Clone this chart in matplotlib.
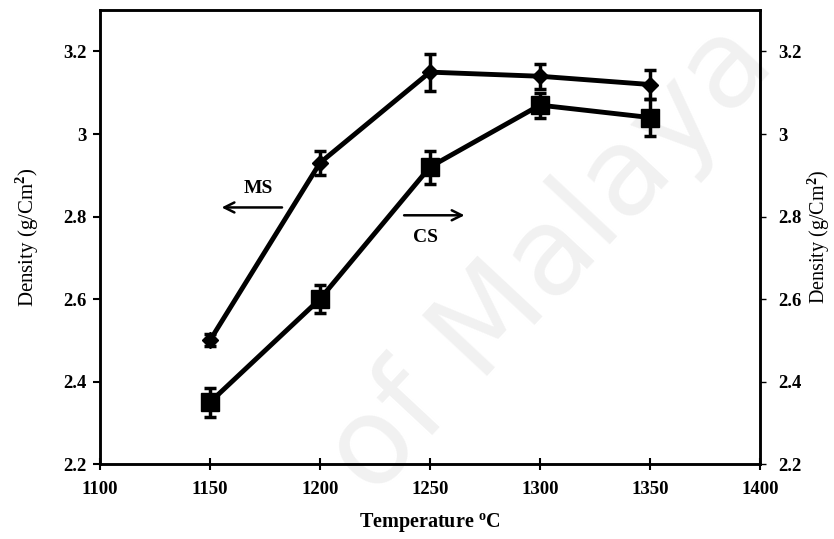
import matplotlib
matplotlib.use('Agg')
import matplotlib.pyplot as plt

# datos
temp = [1150, 1200, 1250, 1300, 1350]
ms = [2.50, 2.93, 3.15, 3.14, 3.12]
ms_err = [0.015, 0.03, 0.045, 0.03, 0.035]
cs = [2.35, 2.60, 2.92, 3.07, 3.04]
cs_err = [0.035, 0.035, 0.04, 0.03, 0.045]
xticks = [1100, 1150, 1200, 1250, 1300, 1350, 1400]
yticks = [2.2, 2.4, 2.6, 2.8, 3.0, 3.2]
ylabels = ['2.2', '2.4', '2.6', '2.8', '3', '3.2']

plt.rcParams['font.family'] = 'Liberation Serif'
plt.rcParams['font.weight'] = 'bold'
plt.rcParams['mathtext.fontset'] = 'custom'
plt.rcParams['mathtext.rm'] = 'Liberation Serif'
plt.rcParams['mathtext.bf'] = 'Liberation Serif:bold'

fig = plt.figure(figsize=(8.34, 5.39), dpi=100)

# marca de agua (detras de todo)
fig.text(0.66, 0.52, 'of Malaya', fontsize=88, color='#f1f1f1', rotation=47,
         ha='center', va='center', family='DejaVu Sans', weight='normal', zorder=-1)

ax = fig.add_axes([0.12, 0.139, 0.791, 0.842])
ax.set_facecolor('none')

ax.errorbar(temp, ms, yerr=ms_err, color='black', lw=3.5, marker='D', ms=8,
            capsize=4, capthick=2.5, elinewidth=2.5, zorder=3)
ax.errorbar(temp, cs, yerr=cs_err, color='black', lw=3.5, marker='s', ms=13,
            capsize=4, capthick=2.5, elinewidth=2.5, zorder=3)

ax.set_xlim(1100, 1400)
ax.set_ylim(2.2, 3.3)
ax.set_xticks(xticks)
ax.set_yticks(yticks)
ax.set_yticklabels(ylabels)
for s in ax.spines.values():
    s.set_linewidth(1.8)
ax.tick_params(axis='x', direction='inout', length=8, width=1.5, labelsize=13.5, pad=8)
ax.tick_params(axis='y', direction='out', length=5, width=1.5, labelsize=13.5, pad=5)

ax.set_xlabel('Temperature $^{\\mathrm{o}}$C', fontsize=14.5, fontweight='bold', labelpad=10)
ax.set_ylabel('Density (g/Cm$^{\\mathrm{2}}$)', fontsize=15, labelpad=16)

ax2 = ax.twinx()
ax2.set_facecolor('none')
ax2.set_ylim(2.2, 3.3)
ax2.set_yticks(yticks)
ax2.set_yticklabels(ylabels)
ax2.tick_params(axis='y', direction='out', length=4, width=1, labelsize=13.5, pad=9)
ax2.set_ylabel('Density (g/Cm$^{\\mathrm{2}}$)', fontsize=14.5, labelpad=3)
for s in ax2.spines.values():
    s.set_linewidth(1.8)

# flechas MS y CS
ax.annotate('', xy=(1154, 2.822), xytext=(1184, 2.822),
            arrowprops=dict(arrowstyle='->', lw=1.8, color='black', mutation_scale=18))
ax.text(1172, 2.868, 'MS', fontsize=14, ha='center', va='center')
ax.annotate('', xy=(1267, 2.803), xytext=(1237, 2.803),
            arrowprops=dict(arrowstyle='->', lw=1.8, color='black', mutation_scale=18))
ax.text(1248, 2.75, 'CS', fontsize=14, ha='center', va='center')

plt.savefig('out.png', dpi=100)
plt.close()
